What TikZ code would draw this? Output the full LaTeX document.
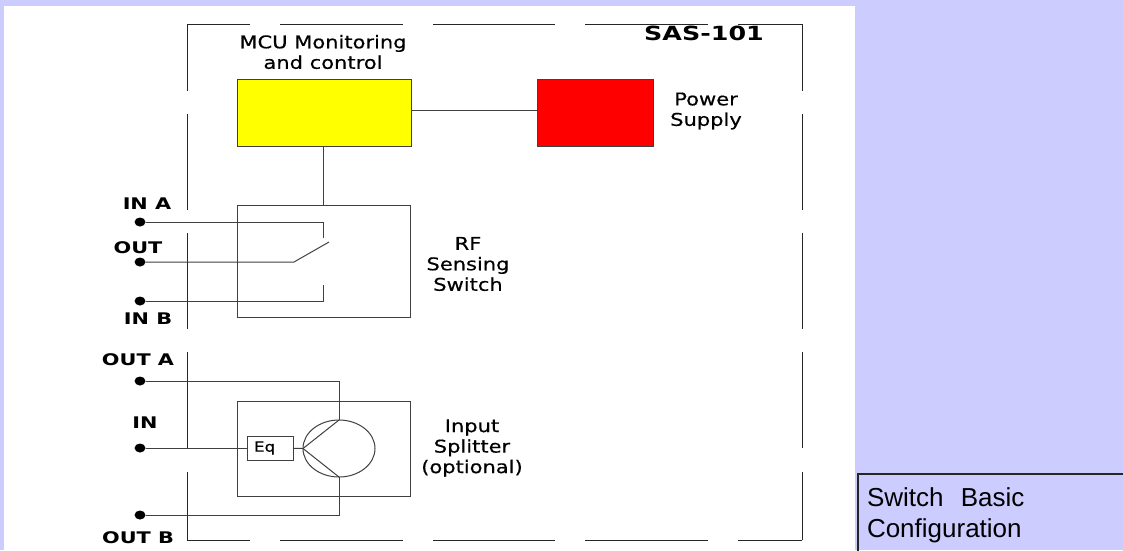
\documentclass[tikz,border=0pt]{standalone}
\usepackage{fontspec}
\setmainfont{Liberation Sans}
\newfontfamily\labelfont[FakeStretch=1.2,FakeBold=0.5]{DejaVu Sans}
\newfontfamily\pinfont[FakeStretch=1.3]{DejaVu Sans Bold}
\usetikzlibrary{shapes.geometric}
\definecolor{pagebg}{HTML}{CCCCFF}
\definecolor{mcufill}{HTML}{FFFF00}
\definecolor{psufill}{HTML}{FF0000}
\tikzset{
    wire/.style={line width=1pt,draw=black!75},
    frameline/.style={line width=1pt,draw=black!85},
    blockbox/.style={draw=black!75,line width=1pt,inner sep=0pt,outer sep=0pt},
    pindot/.style={ellipse,fill=black,inner sep=0pt,outer sep=0pt,minimum width=11pt,minimum height=9pt},
    pinlabel/.style={font=\pinfont\fontsize{16}{18}\selectfont},
    blocklabel/.style={font=\labelfont\fontsize{17.5}{20.5}\selectfont,align=center,inner sep=0pt}
}
\begin{document}
\begin{tikzpicture}[x=1pt,y=-1pt]
    \useasboundingbox (0,0) rectangle (1123,550);
    \clip (0,0) rectangle (1123,550);
    \fill[pagebg] (0,0) rectangle (1123,550);
    \fill[white] (4,6) rectangle (855,550);

    % outer frame
    \foreach \xa/\xb in {187/250,280/403,433/555,585/708,738/802}{
        \draw[frameline] (\xa,24) -- (\xb,24);
        \draw[frameline] (\xa,540) -- (\xb,540);
    }
    \foreach \ya/\yb in {24/91,114/210,233/329,352/448,472/540}{
        \draw[frameline] (187,\ya) -- (187,\yb);
        \draw[frameline] (802,\ya) -- (802,\yb);
    }

    % blocks
    \node[blockbox,fill=mcufill,minimum width=174pt,minimum height=67pt] (mcu) at (324,112.5){};
    \node[blockbox,fill=psufill,minimum width=116pt,minimum height=67pt] (psu) at (595,112.5){};
    \node[blockbox,minimum width=173pt,minimum height=112pt] (rfsw) at (323.5,261){};
    \node[blockbox,minimum width=173pt,minimum height=95pt] (inbox) at (323.5,448.5){};
    \node[blockbox,minimum width=46pt,minimum height=24pt,align=left,text width=32pt,inner xsep=7pt,
          font=\labelfont\fontsize{14}{16}\selectfont] (eq) at (270,448){Eq};
    \node[ellipse,blockbox,minimum width=72pt,minimum height=57pt] (split) at (339,448.5){};

    % terminals
    \node[pindot] (ina) at (140,222){};
    \node[pindot] (outc) at (140,262){};
    \node[pindot] (inb) at (140,301){};
    \node[pindot] (outa) at (140,381){};
    \node[pindot] (insig) at (140,448){};
    \node[pindot] (outb) at (140,515){};

    \coordinate (psuin) at (537,110);
    \coordinate (mcutap) at (323,146);
    \coordinate (contacta) at (323,238);
    \coordinate (contactb) at (323,285);
    \coordinate (pole) at (294,262);
    \coordinate (blade) at (329,242);

    % wiring
    \draw[wire] (mcu.east |- psuin) -- (psuin);
    \draw[wire] (mcutap) -- (mcutap |- rfsw.north);
    \draw[wire] (ina) -| (contacta);
    \draw[wire] (inb) -| (contactb);
    \draw[wire] (outc) -- (pole) -- (blade);
    \draw[wire] (outa) -| (split.north);
    \draw[wire] (outb) -| (split.south);
    \draw[wire] (insig) -- (eq);
    \draw[wire] (eq) -- (split.west);
    \draw[wire] (split.west) -- (split.north);
    \draw[wire] (split.west) -- (split.south);

    % text
    \node[pinlabel] (ina label) at (147,204){IN A};
    \node[pinlabel] (outc label) at (138,248){OUT};
    \node[pinlabel] (inb label) at (148,319){IN B};
    \node[pinlabel] (outa label) at (138,360){OUT A};
    \node[pinlabel] (insig label) at (145,423){IN};
    \node[pinlabel] (outb label) at (138,538){OUT B};
    \node[pinlabel,font=\pinfont\fontsize{19.5}{22}\selectfont] (model) at (704,33){SAS-101};
    \node[blocklabel] (mcu label) at (323,52){MCU Monitoring\\and control};
    \node[blocklabel] (psu label) at (706,111){Power\\Supply};
    \node[blocklabel] (rfsw label) at (468,264){RF\\Sensing\\Switch};
    \node[blocklabel] (inbox label) at (472,448){Input\\Splitter\\(optional)};

    % caption
    \node[draw=black!85,line width=2pt,anchor=north west,minimum height=82pt,
          align=left,text width=280pt,inner xsep=9pt,font=\fontsize{26}{31}\selectfont] (caption) at (857,473){Switch\ \ Basic\\Configuration};
\end{tikzpicture}
\end{document}
